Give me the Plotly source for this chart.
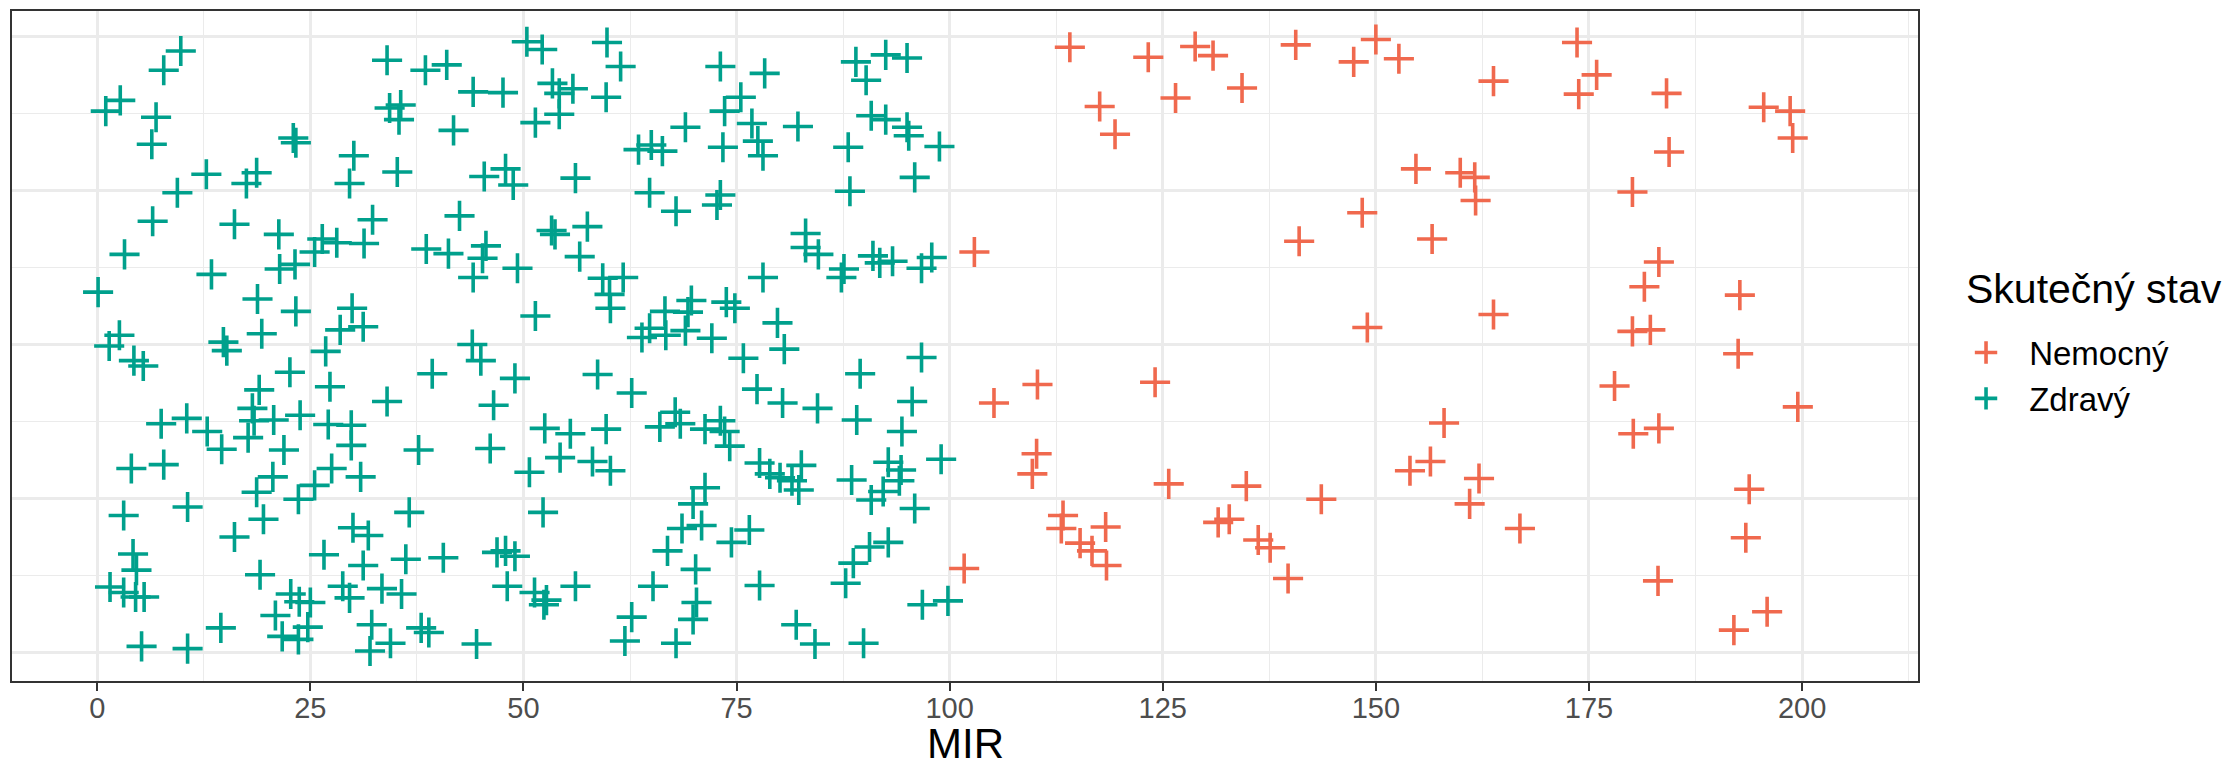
import plotly.graph_objects as go

# ---------------- data ----------------
categories = ["Nemocný", "Zdravý"]
legend_title = "Skutečný stav"
x_title = "MIR"
x_ticks = [0, 25, 50, 75, 100, 125, 150, 175, 200]

zdravy_mir = [
    9.8, 7.8, 2.7, 1.0, 6.9, 6.4, 12.8, 9.4, 17.5, 18.7, 6.5, 16.1, 3.2, 21.3, 13.4, 0.1,
    21.4, 23.2, 25.5, 26.4, 28.1, 31.3, 32.3, 18.8, 23.3, 2.6, 1.4, 4.3, 5.4, 14.8, 15.2,
    19.3, 29.9, 28.5, 31.2, 26.8, 22.6, 27.3, 19.0, 18.2, 18.4, 17.7, 20.7, 23.8, 27.1,
    29.8, 29.8, 21.9, 7.5, 10.5, 12.9, 14.6, 4.0, 7.8, 20.6, 18.7, 25.5, 23.6, 27.5, 30.9,
    3.1, 10.6, 19.5, 16.1, 30.0, 31.8, 26.6, 4.2, 4.6, 19.1, 31.2, 1.5, 3.1, 4.5, 5.5,
    28.8, 29.6, 33.4, 22.7, 23.7, 25.0, 20.9, 24.7, 21.7, 23.6, 14.5, 5.2, 10.6, 32.2,
    32.0, 23.0, 23.3, 30.1, 29.6,
    34.0, 38.5, 41.0, 44.1, 47.6, 50.4, 52.2, 59.8, 61.4, 53.4, 54.2, 55.8, 59.7, 51.4,
    54.2, 34.3, 35.6, 35.4, 41.8, 35.2, 45.4, 47.9, 48.8, 56.1, 63.5, 65.0, 66.3, 69.0,
    64.8, 67.9, 42.5, 38.6, 41.2, 45.6, 45.2, 44.1, 49.3, 53.3, 53.7, 57.5, 56.6, 59.3,
    61.7, 60.1, 60.2, 51.4, 66.6, 69.7, 69.3, 63.9, 64.8, 66.7, 69.0, 44.0, 45.0, 39.3,
    49.0, 58.7, 62.7, 34.0, 46.5, 52.5, 55.5, 59.7, 66.0, 67.8, 68.4, 71.3, 37.7, 46.1,
    50.7, 54.3, 58.1, 60.2, 36.6, 52.3, 69.9, 68.6, 70.9, 66.9, 70.2, 36.2, 40.6, 46.9,
    47.9, 49.0, 48.1, 51.3, 52.7, 52.4, 56.1, 65.2, 70.3, 69.9, 62.7, 61.9, 67.9, 44.5,
    38.0, 38.9, 34.4, 35.7,
    73.1, 78.3, 75.5, 73.6, 76.8, 77.5, 78.1, 73.4, 82.2, 89.0, 90.2, 92.5, 95.0, 90.8,
    92.5, 95.0, 95.2, 98.8, 88.1, 95.9, 88.3, 73.1, 72.7, 83.1, 83.1, 84.6, 87.6, 87.3,
    91.0, 91.8, 93.3, 96.7, 97.9, 78.1, 73.8, 74.8, 79.8, 80.6, 72.1, 75.8, 77.4, 80.4,
    84.5, 89.5, 89.1, 96.7, 95.6, 94.4, 73.1, 73.6, 74.2, 77.7, 78.9, 80.1, 81.5, 82.6,
    82.3, 71.3, 88.5, 90.8, 92.2, 92.8, 94.1, 94.3, 95.9, 99.0, 76.5, 74.4, 88.7, 90.6,
    92.8, 87.8, 77.7, 82.0, 84.2, 89.9, 96.8, 99.8,
]
zdravy_jitter = [
    0.381, 0.356, 0.317, 0.303, 0.295, 0.260, 0.221, 0.197, 0.209, 0.223, 0.160, 0.156,
    0.117, 0.143, 0.091, 0.068, 0.098, 0.104, 0.120, 0.137, 0.132, 0.131, 0.162, 0.059,
    0.043, 0.012, -0.002, -0.021, -0.028, 0.003, -0.008, 0.014, 0.047, 0.019, 0.023,
    -0.009, -0.036, -0.055, -0.059, -0.083, -0.099, -0.121, -0.098, -0.092, -0.104,
    -0.105, -0.131, -0.137, -0.103, -0.096, -0.113, -0.136, -0.161, -0.156, -0.172,
    -0.192, -0.183, -0.201, -0.161, -0.172, -0.222, -0.211, -0.227, -0.250, -0.238,
    -0.248, -0.273, -0.272, -0.293, -0.299, -0.287, -0.315, -0.322, -0.328, -0.328,
    -0.314, -0.329, -0.317, -0.324, -0.334, -0.335, -0.352, -0.367, -0.379, -0.383,
    -0.368, -0.392, -0.395, -0.364, -0.398, 0.268, 0.262, 0.245, 0.209,
    0.369, 0.356, 0.363, 0.328, 0.327, 0.393, 0.383, 0.392, 0.361, 0.339, 0.326, 0.332,
    0.321, 0.288, 0.299, 0.307, 0.311, 0.292, 0.278, 0.224, 0.218, 0.228, 0.207, 0.216,
    0.253, 0.259, 0.251, 0.282, 0.197, 0.173, 0.167, 0.124, 0.118, 0.128, 0.112, 0.087,
    0.099, 0.148, 0.143, 0.153, 0.114, 0.086, 0.087, 0.065, 0.047, 0.037, 0.043, 0.057,
    0.042, 0.009, 0.021, 0.012, 0.018, 0.000, -0.021, -0.038, -0.044, -0.039, -0.063,
    -0.074, -0.079, -0.109, -0.116, -0.110, -0.107, -0.088, -0.103, -0.110, -0.137,
    -0.135, -0.166, -0.147, -0.152, -0.164, -0.218, -0.218, -0.207, -0.239, -0.235,
    -0.268, -0.292, -0.279, -0.277, -0.270, -0.268, -0.275, -0.314, -0.322, -0.332,
    -0.338, -0.314, -0.314, -0.335, -0.357, -0.354, -0.385, -0.388, -0.389, -0.368,
    -0.374, -0.388, -0.324,
    0.361, 0.352, 0.321, 0.303, 0.287, 0.264, 0.245, 0.256, 0.283, 0.367, 0.343, 0.376,
    0.372, 0.297, 0.292, 0.282, 0.271, 0.257, 0.256, 0.217, 0.199, 0.194, 0.181, 0.144,
    0.126, 0.117, 0.098, 0.087, 0.115, 0.106, 0.108, 0.099, 0.113, 0.087, 0.055, 0.047,
    0.028, -0.006, 0.008, -0.018, -0.058, -0.076, -0.083, -0.038, -0.098, -0.017, -0.074,
    -0.113, -0.099, -0.113, -0.132, -0.154, -0.168, -0.173, -0.177, -0.157, -0.189,
    -0.186, -0.176, -0.202, -0.191, -0.153, -0.177, -0.163, -0.213, -0.149, -0.241,
    -0.257, -0.284, -0.263, -0.257, -0.310, -0.313, -0.364, -0.389, -0.388, -0.338, -0.333,
]

nemocny_mir = [
    102.9, 105.2, 101.7, 114.1, 117.6, 119.4, 123.3, 126.5, 128.8, 130.9, 134.3, 140.6,
    141.0, 110.3, 124.1, 110.2, 109.7, 125.7, 113.3, 113.1, 115.3, 116.7, 118.3, 118.4,
    131.5, 132.8, 134.8, 136.2, 137.6, 139.7, 143.6, 147.4, 150.0, 152.7, 163.8, 173.6,
    175.9, 173.8, 154.7, 159.9, 161.6, 161.7, 148.4, 156.6, 180.1, 149.0, 163.8, 158.0,
    154.0, 156.4, 162.1, 161.0, 166.9, 183.2, 181.5, 180.1, 182.2, 178.0, 180.2, 183.2,
    183.1, 184.1, 184.4, 195.5, 198.6, 198.9, 192.7, 192.5, 199.5, 193.8, 193.4, 195.9,
    192.0,
]
nemocny_jitter = [
    0.120, -0.076, -0.291, 0.386, 0.309, 0.273, 0.373, 0.320, 0.387, 0.375, 0.333, 0.389,
    0.134, -0.052, -0.049, -0.142, -0.168, -0.181, -0.222, -0.239, -0.258, -0.268, -0.237,
    -0.287, -0.231, -0.227, -0.184, -0.254, -0.264, -0.304, -0.201, 0.367, 0.396, 0.371,
    0.342, 0.392, 0.350, 0.325, 0.228, 0.223, 0.217, 0.187, 0.171, 0.137, 0.198, 0.022,
    0.039, -0.102, -0.164, -0.152, -0.174, -0.207, -0.239, 0.107, 0.075, 0.017, 0.019,
    -0.054, -0.116, -0.109, -0.307, 0.326, 0.250, 0.308, 0.303, 0.268, 0.064, -0.012,
    -0.081, -0.188, -0.251, -0.347, -0.371,
]

colors = {"Nemocný": "#F0694E", "Zdravý": "#00A08C"}
series = {"Nemocný": (nemocny_mir, nemocny_jitter), "Zdravý": (zdravy_mir, zdravy_jitter)}

FONT = "Liberation Sans, Arial, Helvetica, sans-serif"
LEGEND_PAD = "\u2002\u2009"  # visual gap between legend key and label

# The page body adds an 8px offset, so the figure is 8px smaller than the window.
W, H = 2226, 759
M_L, M_R, M_T, M_B = 4, 316, 3, 86

fig = go.Figure()
for cat in categories:
    xs, ys = series[cat]
    fig.add_trace(go.Scatter(
        x=xs, y=ys, mode="markers", name=LEGEND_PAD + cat,
        marker=dict(symbol="cross-thin", size=21.5, color=colors[cat],
                    line=dict(color=colors[cat], width=3.6)),
    ))

grid = "#EBEBEB"
fig.update_layout(
    template="none",
    width=W, height=H,
    margin=dict(l=M_L, r=M_R, t=M_T, b=M_B, autoexpand=False),
    paper_bgcolor="white", plot_bgcolor="white",
    font=dict(family=FONT, color="black"),
    showlegend=True,
    legend=dict(
        font=dict(size=33, color="black"),
        x=1.0252, xanchor="left", y=0.456, yanchor="middle",
        itemsizing="trace", tracegroupgap=0,
        bgcolor="rgba(0,0,0,0)", borderwidth=0,
    ),
    annotations=[
        dict(text=legend_title, xref="paper", yref="paper", x=1.0241, y=0.585,
             xanchor="left", yanchor="middle", showarrow=False,
             font=dict(size=41, color="black")),
        dict(text=x_title, xref="paper", yref="paper", x=0.5, y=-0.094,
             xanchor="center", yanchor="middle", showarrow=False,
             font=dict(size=42, color="black")),
    ],
    xaxis=dict(
        automargin=False,
        range=[-10.0, 213.6], tickvals=x_ticks, ticktext=[str(t) for t in x_ticks],
        showgrid=True, gridcolor=grid, gridwidth=2.6,
        minor=dict(dtick=12.5, tick0=0, showgrid=True, gridcolor=grid, gridwidth=1.3, ticks=""),
        ticks="outside", ticklen=8, tickwidth=2, tickcolor="#333333",
        tickfont=dict(size=29, color="#4D4D4D"), ticklabelstandoff=-8,
        showline=True, linecolor="#333333", linewidth=2, mirror=True,
        zeroline=False,
    ),
    yaxis=dict(
        automargin=False,
        range=[-0.437, 0.433], tickvals=[-0.4, -0.2, 0, 0.2, 0.4],
        showticklabels=False, ticks="",
        showgrid=True, gridcolor=grid, gridwidth=2.6,
        minor=dict(dtick=0.1, tick0=0, showgrid=True, gridcolor=grid, gridwidth=1.3, ticks=""),
        showline=True, linecolor="#333333", linewidth=2, mirror=True,
        zeroline=False,
    ),
)

fig.write_html("out.html")
